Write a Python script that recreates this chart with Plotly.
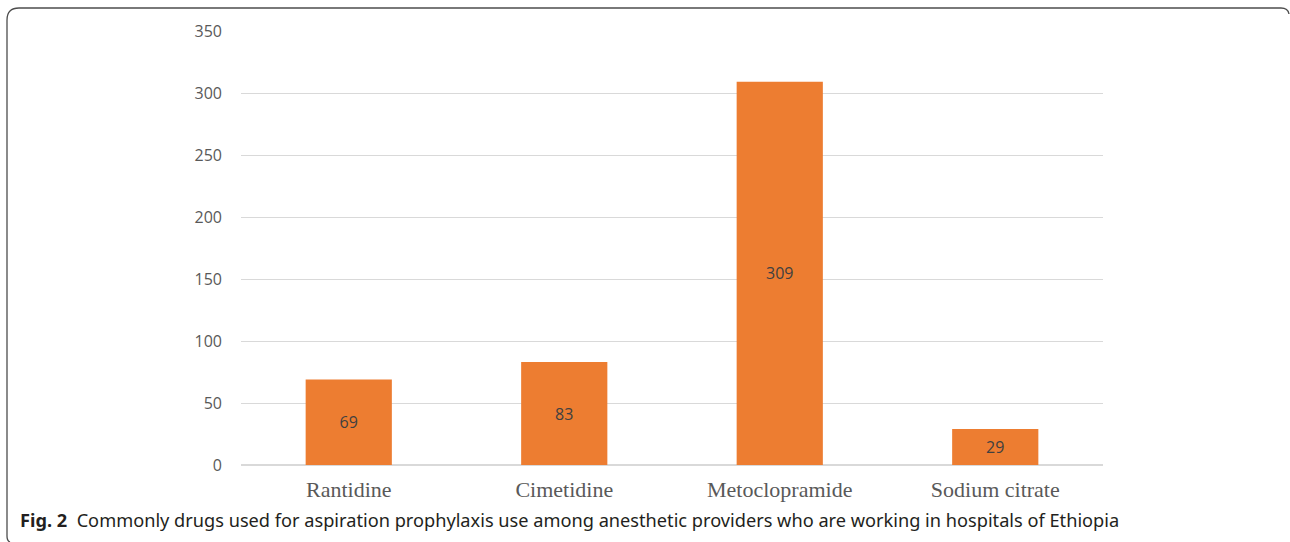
import plotly.graph_objects as go

categories = ["Rantidine", "Cimetidine", "Metoclopramide", "Sodium citrate"]
values = [69, 83, 309, 29]
y_ticks = [0, 50, 100, 150, 200, 250, 300, 350]

W, H = 1290, 542
L, R, T, B = 241, 187, 31, 77
pw, ph = W - L - R, H - T - B

def px(x):
    return (x - L) / pw

def py(y):
    return (H - B - y) / ph

fig = go.Figure()
fig.add_trace(go.Bar(
    x=categories, y=values, width=0.4,
    marker=dict(color="#ED7D31", line=dict(width=0)),
    text=[str(v) for v in values], textposition="inside",
    insidetextanchor="middle",
    textfont=dict(family="Open Sans", size=16, color="#404040"),
    hoverinfo="skip",
))

# open frame: top edge + left edge with rounded corners (cropped page frame)
x0, x1, y0, r = 7, 1289, 8, 12
pts = (f"M {px(x1)},{py(y0 + 6)} Q {px(x1 - 1)},{py(y0)} {px(x1 - 8)},{py(y0)} "
       f"L {px(x0 + r)},{py(y0)} Q {px(x0)},{py(y0)} {px(x0)},{py(y0 + r)} "
       f"L {px(x0)},{py(536)} Q {px(x0)},{py(541)} {px(x0 + 3)},{py(542)}")
fig.add_shape(type="path", path=pts, xref="paper", yref="paper",
              line=dict(color="#4d4d4d", width=1.3), layer="below")

fig.add_annotation(
    x=px(18), y=py(520), xref="paper", yref="paper", xanchor="left", yanchor="middle",
    showarrow=False,
    text="<b>Fig. 2</b>  Commonly drugs used for aspiration prophylaxis use among anesthetic providers who are working in hospitals of Ethiopia",
    font=dict(family="Noto Sans", size=18.2, color="#231f20"),
)

fig.update_layout(
    width=W, height=H,
    margin=dict(l=L, r=R, t=T, b=B, pad=0),
    paper_bgcolor="white", plot_bgcolor="white",
    showlegend=False,
    xaxis=dict(
        showgrid=False, showline=False, ticks="",
        tickfont=dict(family="Liberation Serif", size=22, color="#595959"),
        ticklabelstandoff=9,
    ),
    yaxis=dict(
        range=[0, 350], tickvals=y_ticks, showgrid=True, gridcolor="#d9d9d9",
        gridwidth=1, zeroline=True, zerolinecolor="#d9d9d9", zerolinewidth=2,
        showline=False, ticks="", ticklabelstandoff=18,
        tickfont=dict(family="Open Sans", size=16, color="#595959"),
    ),
)

fig.write_html("out.html", config={"displayModeBar": False},
               post_script="document.body.style.margin='0';document.body.style.overflow='hidden';")
